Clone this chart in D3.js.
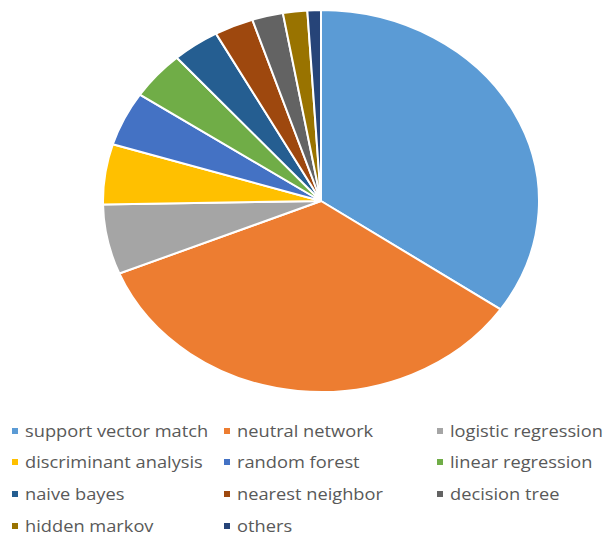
<!DOCTYPE html>
<html>
<head>
<meta charset="utf-8">
<script src="https://cdn.jsdelivr.net/npm/d3@7"></script>
<style>
  body { margin: 0; background: #fff; }
  svg { display: block; }
</style>
</head>
<body>
<div id="container"></div>
<script>
var categories = ['support vector match', 'neutral network', 'logistic regression',
  'discriminant analysis', 'random forest', 'linear regression',
  'naive bayes', 'nearest neighbor', 'decision tree', 'hidden markov', 'others'];
var shares = [34.6, 34.2, 5.9, 5.1, 4.6, 4.1, 3.5, 2.9, 2.3, 1.8, 1.0];
var colors = ['#5b9bd5', '#ed7d31', '#a5a5a5', '#ffc000', '#4472c4', '#70ad47',
  '#255e91', '#9e480e', '#636363', '#997300', '#264478'];

var pageWidth = 605;
var pageHeight = 537;
var cx = 321, cy = 201, rx = 218, ry = 191;
var stretch = rx / ry;   // the whole picture is stretched sideways

var svg = d3.select('#container')
      .append('svg')
      .attr('width', pageWidth)
      .attr('height', pageHeight);

var pie = d3.pie().sort(null).value(function(d) { return d; });
var arc = d3.arc().innerRadius(0).outerRadius(ry);

var pieG = svg.append('g')
      .attr('transform', 'translate(' + cx + ',' + cy + ') scale(' + stretch + ',1)');

pieG.selectAll('path')
  .data(pie(shares))
  .enter()
  .append('path')
  .attr('d', arc)
  .attr('fill', function(d, i) { return colors[i]; })
  .attr('stroke', '#fff')
  .attr('stroke-width', 2)
  .attr('vector-effect', 'non-scaling-stroke');

// legend, three columns
var colX = [12, 224, 437];
var rowY = [431, 462, 494, 526];

var items = svg.selectAll('g.legend')
  .data(categories)
  .enter()
  .append('g')
  .attr('class', 'legend')
  .attr('transform', function(d, i) {
    return 'translate(' + colX[i % 3] + ',' + rowY[Math.floor(i / 3)] + ')';
  });

items.append('rect')
  .attr('x', 0)
  .attr('y', -3)
  .attr('width', 6)
  .attr('height', 6)
  .attr('fill', function(d, i) { return colors[i]; });

items.append('text')
  .attr('transform', 'translate(13,0) scale(' + stretch + ',1)')
  .attr('dy', '0.35em')
  .style('font-family', '"Open Sans", sans-serif')
  .style('font-size', '16px')
  .style('fill', '#595959')
  .text(function(d) { return d; });
</script>
</body>
</html>
